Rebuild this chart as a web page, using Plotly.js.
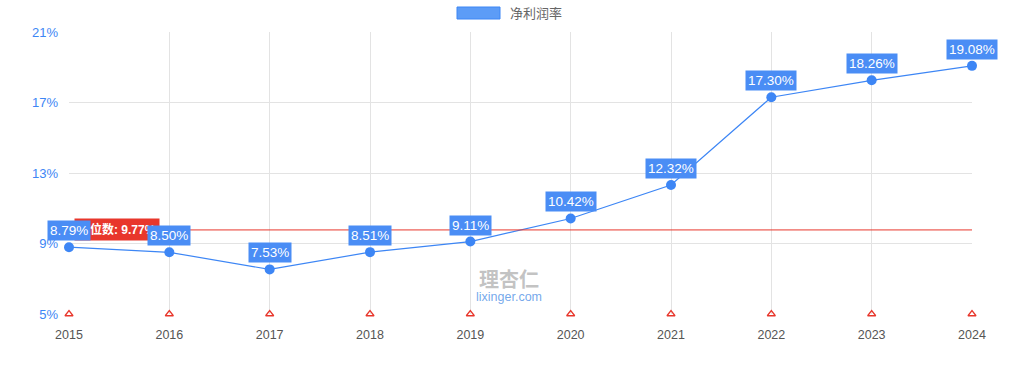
<!DOCTYPE html>
<html><head><meta charset="utf-8">
<script src="https://cdn.plot.ly/plotly-3.0.1.min.js"></script>
<style>html,body{margin:0;padding:0;background:#fff}#chart{width:1024px;height:371px}</style>
</head><body><div id="chart"></div>
<script>
const years = [2015, 2016, 2017, 2018, 2019, 2020, 2021, 2022, 2023, 2024];
const netMargin = [8.79, 8.50, 7.53, 8.51, 9.11, 10.42, 12.32, 17.30, 18.26, 19.08];
const median = 9.77;
const seriesName = '净利润率';
const medianLabel = '中位数: ' + median.toFixed(2) + '%';
const yTicks = [5, 9, 13, 17, 21];
const eventY = 5;

const blue = '#3d86f5';
const labelBlue = '#4a8df5';
const red = '#e8372c';
const font = '"Liberation Sans","Noto Sans CJK SC",Arial,sans-serif';

const traces = [
  {x: years, y: netMargin, type: 'scatter', mode: 'lines+markers', name: seriesName,
   line: {color: blue, width: 1.2}, marker: {color: blue, size: 10}, showlegend: false, cliponaxis: false},
  {x: [years[0], years[years.length-1]], y: [median, median], type: 'scatter', mode: 'lines',
   line: {color: red, width: 1}, showlegend: false, hoverinfo: 'skip'},
  {x: years, y: years.map(() => eventY), type: 'scatter', mode: 'markers',
   marker: {symbol: 'triangle-up-open', color: red, size: 7, line: {width: 1.3, color: red}},
   showlegend: false, cliponaxis: false}
];

const L = 69, R = 52, T = 32, B = 57;
const W = 1024, H = 371, pw = W - L - R, ph = H - T - B;

const annotations = [];
annotations.push({x: years[0], y: median, xref: 'x', yref: 'y', text: '<b>' + medianLabel + '</b>',
  showarrow: false, xanchor: 'left', yanchor: 'middle', xshift: 5, bgcolor: red,
  font: {color: '#fff', size: 12, family: font}, borderpad: 3});
years.forEach((yr, i) => {
  annotations.push({x: yr, y: netMargin[i], xref: 'x', yref: 'y', text: netMargin[i].toFixed(2) + '%',
    showarrow: false, xanchor: 'center', yanchor: 'bottom', yshift: 6, bgcolor: labelBlue,
    font: {color: '#fff', size: 13.5, family: font}, borderpad: 2});
});
// legend text
annotations.push({x: (508 - L) / pw, y: (H - 13 - B) / ph, xref: 'paper', yref: 'paper', text: seriesName,
  showarrow: false, xanchor: 'left', yanchor: 'middle', font: {size: 13, color: '#666', family: font}});
// watermark
annotations.push({xref: 'paper', yref: 'paper', x: 0.487, y: 0.12, yanchor: 'middle', text: '<b>理杏仁</b>', showarrow: false,
  font: {size: 20, color: 'rgba(175,175,175,0.75)', family: font}});
annotations.push({xref: 'paper', yref: 'paper', x: 0.487, y: 0.06, yanchor: 'middle', text: 'lixinger.com', showarrow: false,
  font: {size: 12.5, color: 'rgba(80,145,230,0.8)', family: font}});

const layout = {
  width: W, height: H,
  margin: {l: L, r: R, t: T, b: B},
  paper_bgcolor: '#fff', plot_bgcolor: '#fff',
  showlegend: false,
  font: {family: font},
  xaxis: {range: [years[0], years[years.length-1]], tickvals: years, ticktext: years.map(String),
    showgrid: true, gridcolor: '#e3e3e3', zeroline: false, showline: false,
    tickfont: {size: 12.5, color: '#555'}, ticks: '', ticklen: 0, ticklabelstandoff: 11},
  yaxis: {range: [yTicks[0], yTicks[yTicks.length-1]], tickvals: yTicks, ticktext: yTicks.map(v => v + '%'),
    showgrid: true, gridcolor: '#e3e3e3', zeroline: false, showline: false,
    tickfont: {size: 13, color: '#3d86f5'}, ticks: '', ticklen: 0, ticklabelstandoff: 10},
  shapes: [
    {type: 'rect', xref: 'paper', yref: 'paper', x0: (457 - L) / pw, x1: (500 - L) / pw,
     y0: (H - 19 - B) / ph, y1: (H - 7 - B) / ph, fillcolor: '#5c9cf7', line: {color: '#3d86f5', width: 1}}
  ],
  annotations: annotations
};

Plotly.newPlot('chart', traces, layout, {displayModeBar: false, staticPlot: true});
</script></body></html>
